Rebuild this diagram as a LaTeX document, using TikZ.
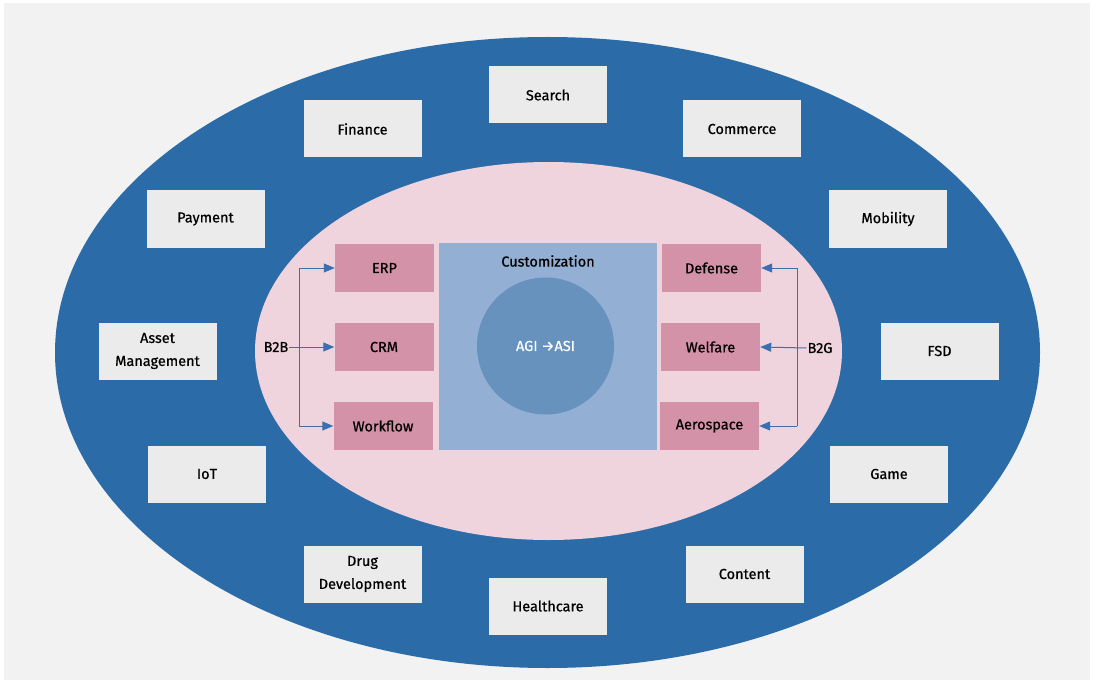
\documentclass[tikz,border=0pt]{standalone}
\usepackage{fontspec}
\setmainfont{Fira Sans}[FakeBold=0.6]
\usetikzlibrary{arrows.meta}
\definecolor{bgray}{HTML}{F2F2F2}
\definecolor{outerblue}{HTML}{2B6CA8}
\definecolor{innerpink}{HTML}{EFD3DD}
\definecolor{boxgray}{HTML}{EBEBEB}
\definecolor{pinkbox}{HTML}{D492A8}
\definecolor{centerblue}{HTML}{94AFD4}
\definecolor{circblue}{HTML}{6692BD}
\definecolor{arrowblue}{HTML}{3A70B0}
\tikzset{
  fnt/.style={font=\fontsize{14.5}{23}\selectfont},
  outerbox/.style={fill=boxgray, minimum width=118pt, minimum height=57pt, inner sep=0pt, align=center, fnt},
  pinkb/.style={fill=pinkbox, minimum width=99pt, minimum height=48pt, inner sep=0pt, fnt},
  lbl/.style={fnt, inner sep=1pt},
  conn/.style={arrowblue, line width=1pt, -{Triangle[length=11pt,width=9pt]}},
  connline/.style={arrowblue, line width=1pt}
}
\begin{document}
\begin{tikzpicture}[x=1pt,y=-1pt]
\useasboundingbox (0,0) rectangle (1093,682);
\fill[white] (0,0) rectangle (1093,682);
\fill[bgray] (4,3) rectangle (1090,680);
\fill[outerblue] (547.5,352.5) ellipse [x radius=492.5, y radius=315.5];
\fill[innerpink] (548.5,351) ellipse [x radius=293.5, y radius=189];
\node[fill=centerblue, minimum width=218pt, minimum height=207pt, inner sep=0pt] (center) at (548,346.5) {};
\node[lbl] (cust) at (548,261) {Customization};
\node[fill=circblue, circle, minimum size=137pt, inner sep=0pt, text=white, fnt] (agi) at (545.5,346) {AGI~→ASI};

% outer boxes
\node[outerbox] (search) at (548,95) {Search};
\node[outerbox] (finance) at (362.5,129) {Finance};
\node[outerbox] (commerce) at (742,129) {Commerce};
\node[outerbox] (payment) at (205.5,219) {Payment};
\node[outerbox] (mobility) at (888,219) {Mobility};
\node[outerbox] (asset) at (157.5,351) {Asset\\Management};
\node[outerbox] (fsd) at (939.5,351) {FSD};
\node[outerbox] (iot) at (207,474) {IoT};
\node[outerbox] (game) at (889,474) {Game};
\node[outerbox] (drug) at (362.5,574) {Drug\\Development};
\node[outerbox] (content) at (744.5,574) {Content};
\node[outerbox] (health) at (548,606) {Healthcare};

% pink boxes
\node[pinkb] (erp) at (384.5,268) {ERP};
\node[pinkb] (crm) at (384,347) {CRM};
\node[pinkb] (work) at (383,426) {Workflow};
\node[pinkb] (def) at (711.5,268) {Defense};
\node[pinkb] (wel) at (710.5,347) {Welfare};
\node[pinkb] (aero) at (709.5,426) {Aerospace};

% B2B
\node[lbl] (b2b) at (276,347) {B2B};
\coordinate (bt) at (299,268);
\coordinate (bb) at (299,426);
\draw[connline] (bt) -- (bb);
\draw[conn] (bt) -- (erp.west);
\draw[conn] (b2b.east) -- (crm.west);
\draw[conn] (bb) -- (work.west);

% B2G
\node[lbl] (b2g) at (820,348) {B2G};
\coordinate (gt) at (797,268);
\coordinate (gb) at (797,426);
\draw[connline] (gt) -- (gb);
\draw[conn] (gt) -- (def.east);
\draw[conn] (b2g.west) -- (wel.east);
\draw[conn] (gb) -- (aero.east);
\end{tikzpicture}
\end{document}
